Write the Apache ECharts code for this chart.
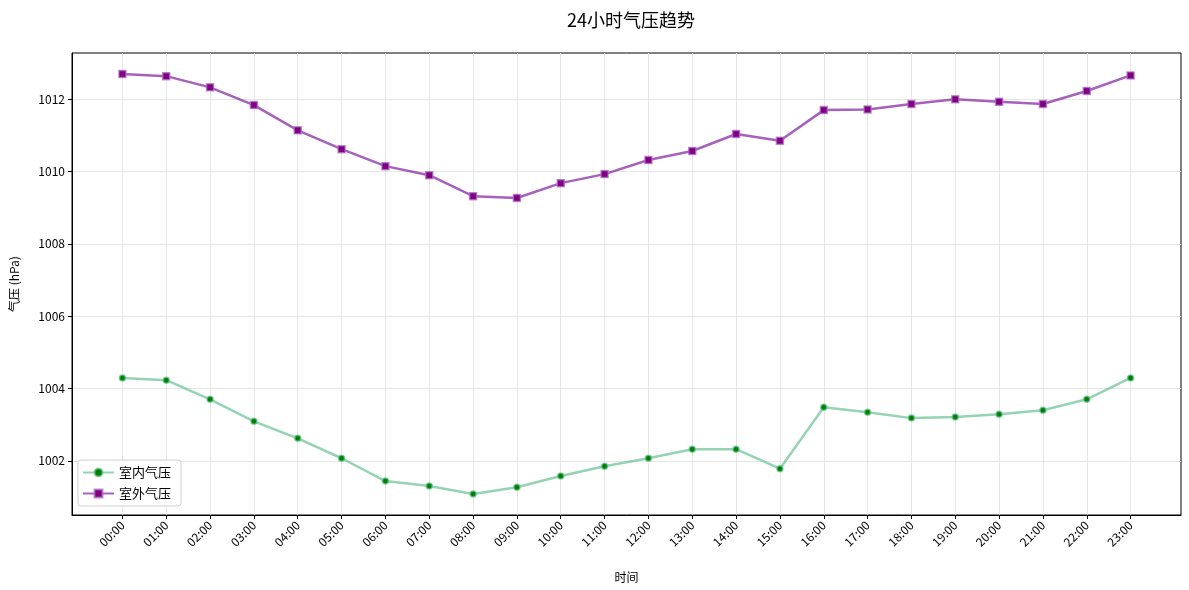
<!DOCTYPE html>
<html>
<head>
<meta charset="utf-8">
<script src="https://cdn.jsdelivr.net/npm/echarts@6/dist/echarts.min.js"></script>
<style>
    html, body { margin: 0; padding: 0; background: #fff; }
    #chart { width: 1189px; height: 590px; }
</style>
</head>
<body>
<div id="chart"></div>
<script>
'use strict';
// 时间刻度
var hours = ['00:00', '01:00', '02:00', '03:00', '04:00', '05:00', '06:00', '07:00',
    '08:00', '09:00', '10:00', '11:00', '12:00', '13:00', '14:00', '15:00',
    '16:00', '17:00', '18:00', '19:00', '20:00', '21:00', '22:00', '23:00'];
// 室内气压
var indoor = [1004.29, 1004.23, 1003.70, 1003.09, 1002.62, 1002.07, 1001.44, 1001.30,
    1001.08, 1001.27, 1001.58, 1001.85, 1002.07, 1002.32, 1002.32, 1001.78,
    1003.48, 1003.34, 1003.18, 1003.21, 1003.29, 1003.40, 1003.70, 1004.29];
// 室外气压
var outdoor = [1012.70, 1012.64, 1012.33, 1011.84, 1011.14, 1010.62, 1010.15, 1009.90,
    1009.32, 1009.27, 1009.68, 1009.93, 1010.32, 1010.57, 1011.04, 1010.85,
    1011.70, 1011.72, 1011.87, 1012.00, 1011.93, 1011.87, 1012.23, 1012.66];
// y轴刻度
var yTicks = [1002, 1004, 1006, 1008, 1010, 1012];

var chart = echarts.init(document.getElementById('chart'));
var font = '"Noto Sans CJK SC", "Noto Sans", sans-serif';
var xTicks = hours.map(function (h, i) { return i; });

function toPairs(arr) {
    return arr.map(function (v, i) { return [i, v]; });
}

var option = {
    backgroundColor: '#fff',
    animation: false,
    textStyle: { fontFamily: font },
    title: {
        text: '24小时气压趋势',
        left: 626,
        textAlign: 'center',
        top: 6,
        textStyle: { fontSize: 18, fontWeight: 'normal', color: '#000', fontFamily: font }
    },
    grid: {
        left: 72, right: 8, top: 53, bottom: 75, containLabel: false,
        show: true, borderColor: '#000', borderWidth: 1, backgroundColor: 'transparent'
    },
    legend: {
        left: 78,
        top: 460,
        orient: 'vertical',
        itemWidth: 31,
        itemHeight: 10,
        itemGap: 8,
        padding: [6, 10, 6, 4],
        backgroundColor: 'rgba(255,255,255,0.8)',
        borderColor: '#d0d0d0',
        borderWidth: 1,
        borderRadius: 3,
        textStyle: { fontSize: 13, color: '#000', fontFamily: font },
        data: ['室内气压', '室外气压']
    },
    xAxis: {
        type: 'value',
        min: -1.15,
        max: 24.15,
        name: '时间',
        nameLocation: 'middle',
        nameGap: 56,
        nameTextStyle: { fontSize: 12, color: '#000' },
        axisLine: { onZero: false, lineStyle: { color: '#000', width: 1 } },
        axisTick: { show: true, length: 4, customValues: xTicks, lineStyle: { color: '#000' } },
        axisLabel: {
            customValues: xTicks,
            rotate: 45,
            fontSize: 12,
            color: '#000',
            margin: 8,
            formatter: function (v) { return hours[Math.round(v)] || ''; }
        },
        splitLine: { show: true, lineStyle: { color: '#e6e6e6', width: 1 } }
    },
    yAxis: {
        type: 'value',
        min: 1000.5,
        max: 1013.28,
        name: '气压 (hPa)',
        nameLocation: 'middle',
        nameGap: 52,
        nameTextStyle: { fontSize: 12, color: '#000' },
        axisLine: { show: true, onZero: false, lineStyle: { color: '#000', width: 1 } },
        axisTick: { show: true, length: 4, customValues: yTicks, lineStyle: { color: '#000' } },
        axisLabel: {
            customValues: yTicks, fontSize: 12, color: '#000', margin: 7,
            formatter: function (v) { return String(v); }
        },
        splitLine: { show: true, lineStyle: { color: '#e6e6e6', width: 1 } }
    },
    series: [{
        name: '室内气压',
        type: 'line',
        data: toPairs(indoor),
        symbol: 'circle',
        symbolSize: 6,
        lineStyle: { color: 'rgba(102,192,148,0.7)', width: 2.5 },
        itemStyle: { color: '#008000', borderColor: 'rgba(102,192,148,0.7)', borderWidth: 1.5 },
        z: 3
    }, {
        name: '室外气压',
        type: 'line',
        data: toPairs(outdoor),
        symbol: 'rect',
        symbolSize: 7,
        lineStyle: { color: 'rgba(128,30,160,0.7)', width: 2.5 },
        itemStyle: { color: '#800080', borderColor: 'rgba(170,110,200,0.7)', borderWidth: 1.5 },
        z: 3
    }]
};

chart.setOption(option);
</script>
</body>
</html>
